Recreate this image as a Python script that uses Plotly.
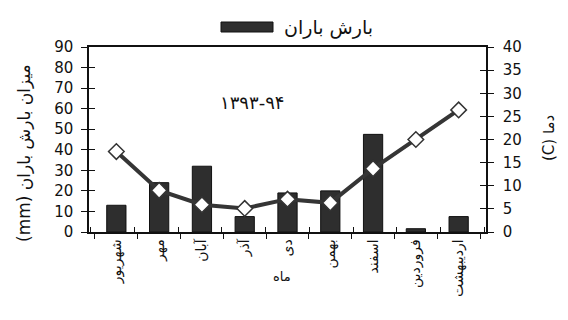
import plotly.graph_objects as go

months = ["شهریور", "مهر", "آبان", "آذر", "دی", "بهمن", "اسفند", "فروردین", "اردیبهشت"]
rain_mm = [13, 24, 32, 7.5, 19, 20, 47.5, 1.6, 7.5]
temp_c = [17.4, 9.0, 5.9, 5.1, 7.1, 6.3, 13.7, 20.0, 26.4]
rain_ticks = list(range(0, 91, 10))
temp_ticks = list(range(0, 41, 5))

FONT = "DejaVu Sans"
DARK = "#2e2e2e"

L, R, T, B = 89, 82, 47, 88
W, H = 568, 320
PW, PH = W - L - R, H - T - B


def px(x):
    return (x - L) / PW


def py(y):
    return (H - B - y) / PH


fig = go.Figure()
fig.add_trace(go.Bar(x=months, y=rain_mm, name="بارش باران", width=0.45,
                     marker=dict(color=DARK, line=dict(color="#111", width=1)),
                     xaxis="x", yaxis="y", showlegend=False))
fig.add_trace(go.Scatter(x=months, y=temp_c, mode="lines+markers", name="دما",
                         line=dict(color="#353535", width=4),
                         marker=dict(symbol="diamond", size=12, color="white",
                                     line=dict(color="#333", width=1.5)),
                         xaxis="x", yaxis="y2", showlegend=False))
# helper invisible traces for inner tick marks
fig.add_trace(go.Scatter(x=months, y=rain_mm, mode="markers", marker=dict(opacity=0),
                         xaxis="x2", yaxis="y3", showlegend=False, hoverinfo="skip"))
fig.add_trace(go.Scatter(x=months, y=temp_c, mode="markers", marker=dict(opacity=0),
                         xaxis="x2", yaxis="y4", showlegend=False, hoverinfo="skip"))

tick_font = dict(family=FONT, size=15, color="#111")
fig.update_layout(
    width=W, height=H,
    margin=dict(l=L, r=R, t=T, b=B),
    paper_bgcolor="white", plot_bgcolor="white",
    showlegend=False,
    xaxis=dict(type="category", categoryarray=months, categoryorder="array",
               tickson="boundaries", ticks="outside", ticklen=5, tickwidth=1.2,
               tickcolor="#111", showline=True, linecolor="#111", linewidth=1.5,
               mirror=True, showgrid=False, zeroline=False, tickangle=-90,
               tickfont=dict(family=FONT, size=14, color="#111")),
    xaxis2=dict(type="category", categoryarray=months, categoryorder="array",
                overlaying="x", anchor="y", side="bottom", tickson="boundaries",
                ticks="inside", ticklen=5, tickwidth=1.2, tickcolor="#111",
                showticklabels=False, showline=False, showgrid=False, zeroline=False),
    yaxis=dict(range=[0, 90], tickvals=rain_ticks, ticks="outside", ticklen=6,
               tickwidth=1.2, tickcolor="#111", showline=True, linecolor="#111",
               linewidth=1.5, showgrid=False, zeroline=False, tickfont=tick_font,
               ticklabelstandoff=5),
    yaxis3=dict(range=[0, 90], tickvals=rain_ticks, ticks="inside", ticklen=6,
                tickwidth=1.2, tickcolor="#111", overlaying="y", anchor="x",
                side="left", showticklabels=False, showline=False, showgrid=False,
                zeroline=False),
    yaxis2=dict(range=[0, 40], tickvals=temp_ticks, ticks="outside", ticklen=6,
                tickwidth=1.2, tickcolor="#111", overlaying="y", anchor="x",
                side="right", showline=True, linecolor="#111", linewidth=1.5,
                showgrid=False, zeroline=False, tickfont=tick_font,
                ticklabelstandoff=6),
    yaxis4=dict(range=[0, 40], tickvals=temp_ticks, ticks="inside", ticklen=6,
                tickwidth=1.2, tickcolor="#111", overlaying="y", anchor="x",
                side="right", showticklabels=False, showline=False, showgrid=False,
                zeroline=False),
)

fig.add_annotation(text="(mm) میزان بارش باران", xref="paper", yref="paper",
                   x=px(24), y=py(153), textangle=-90, showarrow=False,
                   font=dict(family=FONT, size=17, color="#111"),
                   xanchor="center", yanchor="middle")
fig.add_annotation(text="(C) دما", xref="paper", yref="paper",
                   x=px(549), y=py(138), textangle=-90, showarrow=False,
                   font=dict(family=FONT, size=15, color="#111"),
                   xanchor="center", yanchor="middle")
fig.add_annotation(text="۱۳۹۳-۹۴", xref="paper", yref="paper",
                   x=px(252), y=py(90), showarrow=False,
                   font=dict(family=FONT, size=18, color="#111"))
fig.add_annotation(text="ماه", xref="paper", yref="paper",
                   x=px(282), y=py(286), showarrow=False,
                   font=dict(family=FONT, size=13, color="#111"))
# legend
fig.add_shape(type="rect", xref="paper", yref="paper",
              x0=px(221), x1=px(273), y0=py(32), y1=py(22),
              fillcolor=DARK, line=dict(color="#111", width=1))
fig.add_annotation(text="بارش باران", xref="paper", yref="paper",
                   x=px(282), y=py(27), xanchor="left", yanchor="middle",
                   showarrow=False, font=dict(family=FONT, size=19, color="#111"))

fig.write_html("out.html")
